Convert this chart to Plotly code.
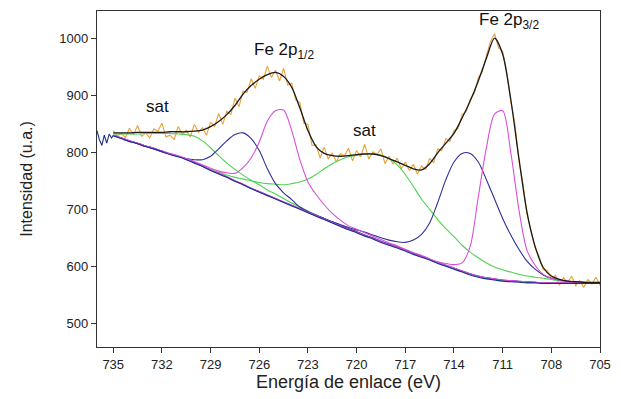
import plotly.graph_objects as go

# ---------------- data ----------------
# energy grid for fitted components (eV)
energy_fit = [735.0, 734.5, 734.0, 733.5, 733.0, 732.5, 732.0, 731.5, 731.0, 730.5,
              730.0, 729.5, 729.0, 728.5, 728.0, 727.5, 727.0, 726.5, 726.0, 725.5,
              725.0, 724.5, 724.0, 723.5, 723.0, 722.5, 722.0, 721.5, 721.0, 720.5,
              720.0, 719.5, 719.0, 718.5, 718.0, 717.5, 717.0, 716.5, 716.0, 715.5,
              715.0, 714.5, 714.0, 713.5, 713.0, 712.5, 712.0, 711.5, 711.0, 710.5,
              710.0, 709.5, 709.0, 708.5, 708.0, 707.5, 707.0, 706.5, 706.0, 705.5,
              705.0]

background = [829, 824, 819, 815, 810, 806, 801, 796, 792, 787,
              781, 775, 768, 762, 756, 749, 743, 736, 730, 724,
              718, 712, 706, 700, 694, 688, 682, 676, 670, 664,
              659, 653, 648, 642, 637, 632, 627, 621, 616, 611,
              605, 600, 595, 590, 585, 581, 578, 576, 574, 573,
              572, 571, 571, 570, 570, 570, 570, 570, 570, 570,
              570]

sat_733 = [832, 832, 832, 832, 833, 833, 833, 833, 832, 831,
           828, 820, 808, 794, 781, 770, 760, 751, 743, 734,
           727, 719, 711, 704, 697, 690, 684, 677, 671, 665,
           660, 654, 649, 643, 638, 633, 628, 622, 617, 612,
           606, 601, 596, 591, 586, 582, 579, 577, 575, 574,
           573, 572, 572, 571, 571, 571, 571, 571, 571, 571,
           571]

peak_727 = [829, 824, 819, 815, 810, 806, 801, 797, 793, 789,
            787, 787, 793, 806, 820, 831, 834, 824, 803, 771,
            745, 729, 717, 704, 696, 690, 684, 678, 672, 666,
            661, 655, 650, 644, 639, 634, 629, 623, 618, 613,
            607, 602, 597, 592, 587, 583, 580, 578, 576, 575,
            574, 573, 572, 571, 571, 571, 571, 571, 571, 571,
            571]

peak_725 = [830, 825, 820, 816, 811, 807, 802, 798, 794, 789,
            784, 778, 772, 767, 764, 763, 773, 790, 818, 855,
            873, 874, 838, 787, 748, 726, 708, 693, 681, 671,
            665, 659, 653, 647, 641, 636, 630, 624, 619, 613,
            607, 602, 597, 592, 587, 583, 580, 578, 576, 575,
            574, 573, 572, 571, 571, 571, 571, 571, 571, 571,
            571]

sat_719 = [830, 825, 820, 816, 811, 807, 802, 797, 793, 788,
           782, 776, 770, 765, 760, 756, 753, 750, 747, 745,
           744, 743, 745, 748, 753, 761, 771, 780, 787, 792,
           795, 797, 797, 795, 789, 778, 761, 740, 718, 700,
           682, 666, 652, 637, 625, 615, 606, 599, 594, 590,
           586, 583, 581, 579, 577, 575, 574, 573, 572, 571,
           571]

peak_713 = [830, 825, 820, 816, 811, 807, 802, 797, 793, 788,
            782, 776, 769, 763, 757, 750, 744, 737, 731, 725,
            719, 713, 707, 701, 695, 689, 684, 678, 673, 668,
            664, 660, 655, 650, 646, 643, 642, 646, 656, 676,
            712, 752, 783, 798, 798, 783, 752, 718, 684, 655,
            630, 609, 595, 585, 579, 576, 574, 573, 572, 571,
            571]

peak_711 = [830, 825, 820, 816, 811, 807, 802, 797, 793, 788,
            782, 776, 769, 763, 757, 750, 744, 737, 731, 725,
            719, 713, 707, 701, 695, 689, 683, 677, 671, 665,
            660, 654, 649, 643, 638, 633, 628, 622, 617, 612,
            608, 605, 603, 606, 635, 722, 808, 867, 873, 800,
            700, 628, 602, 586, 579, 576, 574, 573, 572, 571,
            571]

envelope = [834, 834, 834, 835, 835, 835, 835, 836, 836, 836,
            837, 839, 845, 854, 866, 882, 902, 917, 928, 936,
            940, 933, 914, 878, 838, 810, 798, 794, 793, 794,
            796, 797, 797, 794, 789, 783, 777, 771, 769, 780,
            799, 816, 833, 860, 890, 925, 965, 1000, 972, 893,
            790, 695, 635, 598, 583, 577, 574, 573, 572, 572,
            572]

# raw spectrum (0.25 eV steps)
energy_raw = [735.0, 734.75, 734.5, 734.25, 734.0, 733.75, 733.5, 733.25, 733.0, 732.75,
              732.5, 732.25, 732.0, 731.75, 731.5, 731.25, 731.0, 730.75, 730.5, 730.25,
              730.0, 729.75, 729.5, 729.25, 729.0, 728.75, 728.5, 728.25, 728.0, 727.75,
              727.5, 727.25, 727.0, 726.75, 726.5, 726.25, 726.0, 725.75, 725.5, 725.25,
              725.0, 724.75, 724.5, 724.25, 724.0, 723.75, 723.5, 723.25, 723.0, 722.75,
              722.5, 722.25, 722.0, 721.75, 721.5, 721.25, 721.0, 720.75, 720.5, 720.25,
              720.0, 719.75, 719.5, 719.25, 719.0, 718.75, 718.5, 718.25, 718.0, 717.75,
              717.5, 717.25, 717.0, 716.75, 716.5, 716.25, 716.0, 715.75, 715.5, 715.25,
              715.0, 714.75, 714.5, 714.25, 714.0, 713.75, 713.5, 713.25, 713.0, 712.75,
              712.5, 712.25, 712.0, 711.75, 711.5, 711.25, 711.0, 710.75, 710.5, 710.25,
              710.0, 709.75, 709.5, 709.25, 709.0, 708.75, 708.5, 708.25, 708.0, 707.75,
              707.5, 707.25, 707.0, 706.75, 706.5, 706.25, 706.0, 705.75, 705.5, 705.25,
              705.0]
counts_raw = [838, 829, 833, 826, 842, 831, 847, 828, 834, 825,
              841, 837, 851, 827, 830, 822, 845, 832, 839, 827,
              849, 835, 843, 830, 853, 845, 868, 849, 872, 866,
              895, 880, 907, 905, 929, 912, 934, 928, 951, 931,
              944, 925, 947, 918, 921, 892, 887, 851, 849, 812,
              813, 790, 809, 788, 799, 783, 798, 794, 807, 785,
              803, 792, 814, 788, 801, 796, 806, 780, 793, 779,
              790, 771, 783, 768, 779, 762, 776, 770, 789, 782,
              806, 803, 824, 819, 838, 842, 866, 871, 893, 903,
              931, 941, 970, 994, 1008, 983, 977, 941, 889, 851,
              786, 745, 691, 664, 632, 618, 594, 593, 578, 584,
              567, 580, 572, 583, 566, 575, 563, 577, 569, 581,
              567]

# short dark segment at the far left edge
energy_edge = [736.0, 735.85, 735.7, 735.55, 735.4, 735.25, 735.1, 735.0]
counts_edge = [838, 822, 812, 830, 816, 832, 825, 830]

x_ticks = [735, 732, 729, 726, 723, 720, 717, 714, 711, 708, 705]
y_ticks = [500, 600, 700, 800, 900, 1000]

labels = [("sat", 732.3, 881), ("Fe 2p<sub>1/2</sub>", 724.5, 977),
          ("sat", 719.5, 838), ("Fe 2p<sub>3/2</sub>", 710.6, 1031)]

# ---------------- figure ----------------
FONT = "Liberation Sans, Arial, sans-serif"
GREEN = "#4fd14f"
BLUE = "#2e2f9a"
NAVY = "#1c2f8f"
MAGENTA = "#d94fd9"
ORANGE = "#e9a23b"

fig = go.Figure()
fig.add_trace(go.Scatter(x=energy_raw, y=counts_raw, mode="lines",
                         line=dict(color=ORANGE, width=1.1)))
fig.add_trace(go.Scatter(x=energy_edge, y=counts_edge, mode="lines",
                         line=dict(color=NAVY, width=1.1)))
comps = [(sat_733, GREEN), (sat_719, GREEN), (peak_727, BLUE), (peak_713, BLUE),
         (peak_725, MAGENTA), (peak_711, MAGENTA), (background, NAVY)]
for ys, col in comps:
    fig.add_trace(go.Scatter(x=energy_fit, y=ys, mode="lines",
                             line=dict(color=col, width=1.1, shape="spline", smoothing=0.8)))
fig.add_trace(go.Scatter(x=energy_fit, y=envelope, mode="lines",
                         line=dict(color="#1a1a1a", width=1.3, shape="spline", smoothing=0.8)))

for txt, xx, yy in labels:
    fig.add_annotation(x=xx, y=yy, text=txt, showarrow=False,
                       font=dict(family=FONT, size=17, color="#111"))

axis_common = dict(showline=True, linecolor="#333", linewidth=1.3, mirror=True,
                   ticks="outside", ticklen=5, tickwidth=1, tickcolor="#333",
                   showgrid=False, zeroline=False,
                   tickfont=dict(family=FONT, size=13, color="#222"))

fig.update_layout(
    width=621, height=399,
    margin=dict(l=97, r=19, t=10, b=52),
    paper_bgcolor="white", plot_bgcolor="white",
    showlegend=False,
    xaxis=dict(range=[736.0, 705.0], tickvals=x_ticks, ticktext=[str(v) for v in x_ticks],
               title=dict(text="Energía de enlace (eV)", standoff=4,
                          font=dict(family=FONT, size=18, color="#222")),
               **axis_common),
    yaxis=dict(range=[458.6, 1047.7], tickvals=y_ticks, ticktext=[str(v) for v in y_ticks],
               title=dict(text="Intensidad (u.a.)", standoff=22,
                          font=dict(family=FONT, size=16, color="#222")),
               **axis_common),
)

fig.write_html("out.html")
